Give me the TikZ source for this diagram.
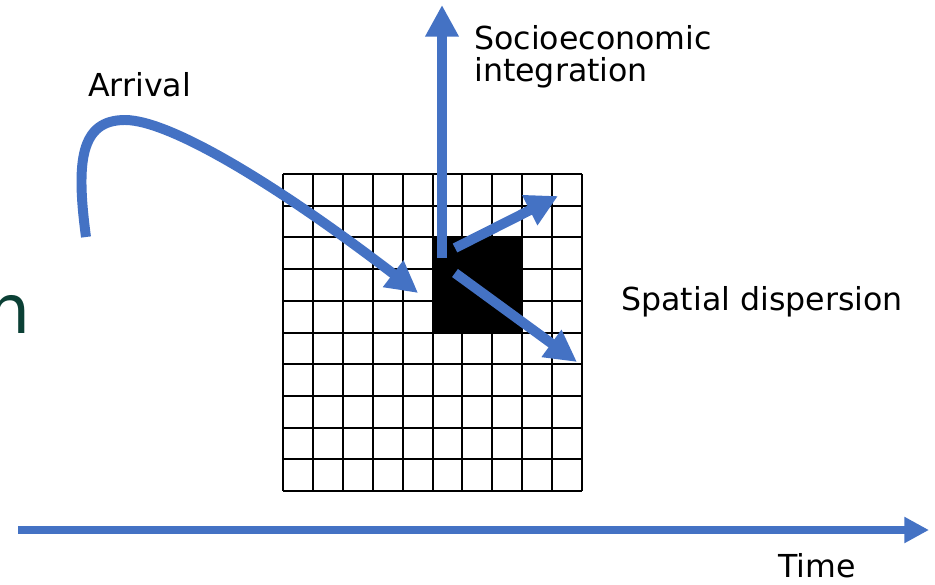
\documentclass[tikz,border=0pt]{standalone}
\usepackage{fontspec}
\setmainfont{DejaVu Sans}
\usepackage{tikz}
\usetikzlibrary{arrows.meta,bending,positioning}
\definecolor{flowblue}{RGB}{68,114,196}
\definecolor{darkteal}{RGB}{11,64,53}
\newcommand{\cellw}{29.9}
\newcommand{\cellh}{31.7}

\begin{document}
\begin{tikzpicture}[x=0.03cm,y=-0.03cm,
    flow/.style={flowblue,line width=8.5pt,-{Triangle[length=27pt,width=27pt,bend]}},
    txt/.style={inner sep=0pt,anchor=base west,font=\fontsize{27}{27.3}\selectfont}]
    \useasboundingbox (0,0) rectangle (935,584);

    % Neighbourhood grid
    \foreach \i in {0,...,10} {
        \draw[line width=1.7pt] (283+\cellw*\i,174) -- (283+\cellw*\i,491);
        \draw[line width=1.7pt] (283,174+\cellh*\i) -- (582,174+\cellh*\i);
    }

    % Settlement block
    \fill (432.3,237.3) rectangle (522.3,332.3);

    % Arrow end points
    \coordinate (arrStart) at (86,237);
    \coordinate (arrTop) at (125,120);
    \coordinate (arrEnd) at (418,293);
    \coordinate (upStart) at (442,258);
    \coordinate (upEnd) at (442,5);
    \coordinate (neStart) at (455,248);
    \coordinate (neEnd) at (558,196);
    \coordinate (seStart) at (455,273);
    \coordinate (seEnd) at (577,362);
    \coordinate (timeStart) at (18,530);
    \coordinate (timeEnd) at (929,530);

    % Arrows
    \draw[flowblue,line width=8.5pt] (arrStart) .. controls (76,162) and (80,120) .. (arrTop);
    \draw[flow] (arrTop) .. controls (175,120) and (300,200) .. (arrEnd);
    \draw[flow] (upStart) -- (upEnd);
    \draw[flow] (neStart) -- (neEnd);
    \draw[flow] (seStart) -- (seEnd);
    \draw[flowblue,line width=6.8pt,-{Triangle[length=21pt,width=21pt]}] (timeStart) -- (timeEnd);

    % Labels
    \node[txt] (arrival) at (88,96) {Arrival};
    \node[txt,align=left] (socio) at (474,81) {Socioeconomic\\integration};
    \node[txt] (spatial) at (621,310) {Spatial dispersion};
    \node[txt] (time) at (778,577) {Time};
    \node[inner sep=0pt,anchor=base east,text=darkteal,font=\fontsize{58}{58}\selectfont] (cut) at (31,333) {n};
\end{tikzpicture}
\end{document}
